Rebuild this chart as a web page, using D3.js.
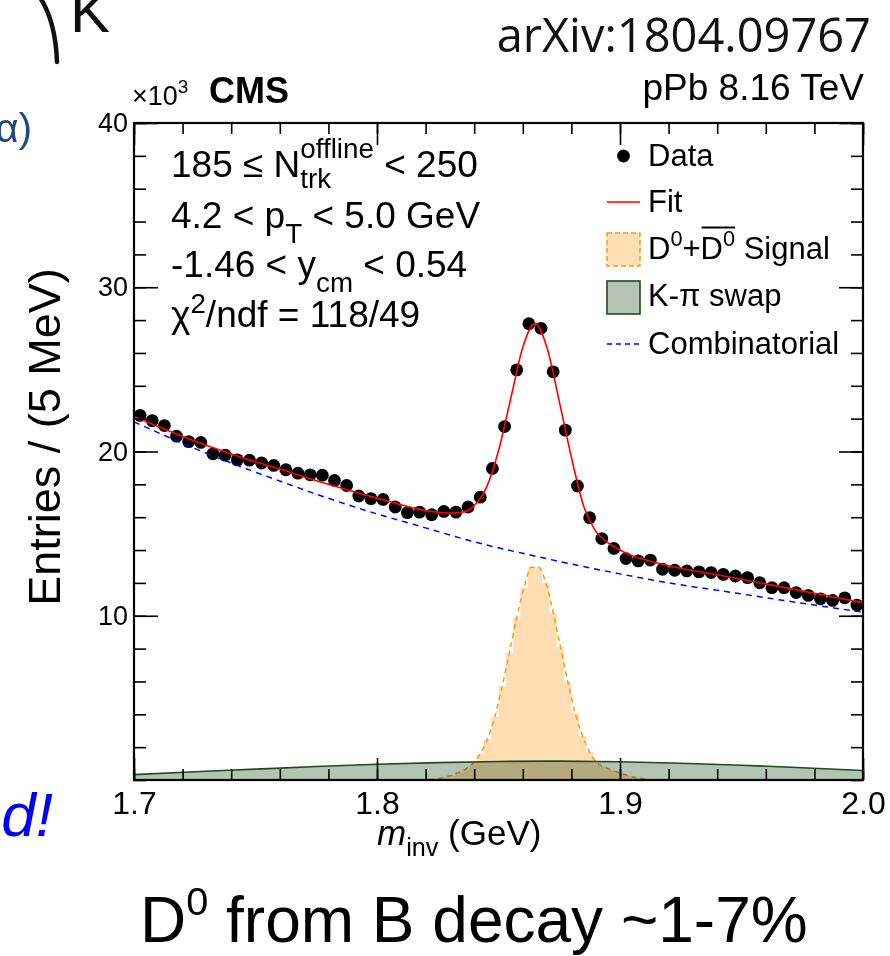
<!DOCTYPE html>
<html>
<head>
<meta charset="utf-8">
<script src="https://cdn.jsdelivr.net/npm/d3@7"></script>
<style>
  body { margin: 0; background: #fff; }
  svg { display: block; font-family: "Liberation Sans", Arial, Helvetica, sans-serif; }
  text { white-space: pre; }
</style>
</head>
<body>
<svg id="chart" width="890" height="956"></svg>
<script>
// ---- D0 -> K pi invariant-mass spectrum, 185 <= Ntrk < 250, 4.2 < pT < 5.0 GeV ----
// Data: entries (x10^3) in 5 MeV bins from 1.700 to 2.000 GeV
const massMin = 1.7;
const binWidth = 0.005;
const dataCounts = [
  22.20, 21.88, 21.58, 20.93, 20.60, 20.55, 19.86, 19.78, 19.49, 19.47,
  19.30, 19.15, 18.89, 18.68, 18.58, 18.56, 18.24, 17.93, 17.29, 17.13,
  17.08, 16.62, 16.28, 16.31, 16.15, 16.35, 16.31, 16.62, 17.22, 18.97,
  21.52, 24.97, 27.78, 27.50, 24.85, 21.30, 17.90, 15.97, 14.70, 14.10,
  13.48, 13.34, 13.39, 12.83, 12.77, 12.73, 12.67, 12.63, 12.52, 12.42,
  12.32, 12.01, 11.71, 11.71, 11.41, 11.24, 11.03, 10.93, 11.09, 10.65
];

// D0 + D0bar signal template, 3 MeV bins starting at 1.820 GeV (x10^3)
const signalBinMin = 1.820;
const signalBinWidth = 0.003;
const signalBins = [
  0.03, 0.08, 0.16, 0.28, 0.45, 0.68, 1.00, 1.60, 2.50, 3.85,
  5.70, 7.75, 9.90, 11.70, 12.95, 12.95, 12.00, 10.20, 8.10, 6.00,
  4.10, 2.70, 1.70, 1.05, 0.80, 0.60, 0.45, 0.30, 0.18, 0.10, 0.05
];

// Combinatorial background component
const combMass   = [1.70, 1.72, 1.74, 1.76, 1.78, 1.80, 1.82, 1.84, 1.86, 1.88, 1.90, 1.92, 1.94, 1.96, 1.98, 2.00];
const combValues = [21.8, 20.5, 19.3, 18.2, 17.15, 16.2, 15.35, 14.5, 13.8, 13.15, 12.55, 12.0, 11.55, 11.1, 10.65, 10.22];

// K-pi mass-swap component
const swapMass   = [1.700, 1.725, 1.750, 1.775, 1.800, 1.825, 1.850, 1.875, 1.900, 1.925, 1.950, 1.975, 2.000];
const swapValues = [0.33, 0.50, 0.66, 0.82, 0.96, 1.06, 1.13, 1.15, 1.11, 1.02, 0.90, 0.75, 0.58];

// Total fit
const fitMass = [1.70, 1.72, 1.74, 1.76, 1.78, 1.80, 1.82, 1.83, 1.835, 1.84, 1.845, 1.85, 1.855, 1.86,
                 1.865, 1.87, 1.875, 1.88, 1.885, 1.89, 1.895, 1.90, 1.905, 1.91, 1.92, 1.94, 1.96, 1.98, 2.00];
const fitValues = [22.13, 20.92, 19.85, 18.93, 18.0, 17.16, 16.41, 16.25, 16.3, 16.71, 17.8, 20.05, 23.2, 26.35,
                   27.8, 26.3, 23.05, 19.65, 16.7, 15.15, 14.45, 14.0, 13.65, 13.42, 13.04, 12.5, 11.94, 11.37, 10.8];

// Axis tick labels
const xTickLabels = [1.7, 1.8, 1.9, 2.0];
const yTickLabels = [10, 20, 30, 40];

// ---------------------------------------------------------------------------
const svg = d3.select("#chart");
const frame = { left: 134, right: 863, top: 123, bottom: 780 };

const x = d3.scaleLinear().domain([1.7, 2.0]).range([frame.left, frame.right]);
const y = d3.scaleLinear().domain([0, 40]).range([frame.bottom, frame.top]);

const COL = {
  sigFill: "#ffdeb3", sigLine: "#f29d1c",
  swapFill: "#b4c4b4", swapLine: "#1d4d1d",
  comb: "#0000ff", fit: "#ff0000"
};

// Text with sub/superscripts laid out run by run
function richText(parent, x0, y0, runs, size, opts = {}) {
  const g = parent.append("g");
  let cx = x0, lastX = x0, lastW = 0, barStart = null;
  runs.forEach(r => {
    const fs = size * (r.k || 1);
    const rx = r.stack ? lastX : cx;
    const t = g.append("text")
      .attr("x", rx).attr("y", y0 + (r.dy || 0) * size)
      .attr("font-size", fs)
      .attr("fill", opts.fill || "#000")
      .text(r.t);
    if (opts.family) t.attr("font-family", opts.family);
    if (r.italic || opts.italic) t.attr("font-style", "italic");
    if (r.bold || opts.bold) t.attr("font-weight", "bold");
    const w = t.node().getComputedTextLength();
    if (r.barStart) barStart = rx;
    if (r.stack) {
      lastW = Math.max(lastW, w);
      cx = lastX + lastW;
    } else {
      lastX = rx; lastW = w; cx = rx + w;
    }
    if (r.barEnd && barStart !== null) {
      g.append("line")
        .attr("x1", barStart + 1).attr("x2", cx)
        .attr("y1", y0 - size * 1.02).attr("y2", y0 - size * 1.02)
        .attr("stroke", "#000").attr("stroke-width", 2);
    }
    cx += (r.gap || 0) * size;
  });
  if (opts.anchor === "end") g.attr("transform", `translate(${x0 - cx},0)`);
  return g;
}

// ---- Signal template (step histogram + dashed shape) ----
const sigSteps = signalBins.map((v, i) => [signalBinMin + i * signalBinWidth, v]);
sigSteps.push([signalBinMin + signalBins.length * signalBinWidth, signalBins[signalBins.length - 1]]);

svg.append("path")
  .attr("d", d3.area().curve(d3.curveStepAfter)
    .x(d => x(d[0])).y0(y(0)).y1(d => y(d[1]))(sigSteps))
  .attr("fill", COL.sigFill);

const sigCentres = signalBins.map((v, i) => [signalBinMin + (i + 0.5) * signalBinWidth, v]);
svg.append("path")
  .attr("d", d3.line().curve(d3.curveMonotoneX)
    .x(d => x(d[0])).y(d => y(d[1]))(sigCentres))
  .attr("fill", "none").attr("stroke", COL.sigLine)
  .attr("stroke-width", 1.5).attr("stroke-dasharray", "5,4");

// ---- K-pi swap component ----
const swapPts = swapMass.map((m, i) => [m, swapValues[i]]);
svg.append("path")
  .attr("d", d3.area().curve(d3.curveNatural)
    .x(d => x(d[0])).y0(y(0)).y1(d => y(d[1]))(swapPts))
  .attr("fill", COL.swapFill)
  .style("mix-blend-mode", "multiply");
svg.append("path")
  .attr("d", d3.line().curve(d3.curveNatural)
    .x(d => x(d[0])).y(d => y(d[1]))(swapPts))
  .attr("fill", "none").attr("stroke", COL.swapLine).attr("stroke-width", 1.6);

// ---- Data points ----
svg.append("g").selectAll("circle")
  .data(dataCounts)
  .join("circle")
  .attr("cx", (d, i) => x(massMin + (i + 0.5) * binWidth))
  .attr("cy", d => y(d))
  .attr("r", 6.4)
  .attr("fill", "#000");

// ---- Combinatorial background ----
svg.append("path")
  .attr("d", d3.line().curve(d3.curveNatural)
    .x((d, i) => x(combMass[i])).y(d => y(d))(combValues))
  .attr("fill", "none").attr("stroke", COL.comb)
  .attr("stroke-width", 1.5).attr("stroke-dasharray", "6,5");

// ---- Total fit ----
svg.append("path")
  .attr("d", d3.line().curve(d3.curveMonotoneX)
    .x((d, i) => x(fitMass[i])).y(d => y(d))(fitValues))
  .attr("fill", "none").attr("stroke", COL.fit).attr("stroke-width", 1.6);

// ---- Axes (ticks on all four sides, pointing inward) ----
function styleAxis(g, size) {
  g.attr("font-family", null).attr("font-size", size);
  g.select(".domain").remove();
  g.selectAll(".tick line").attr("stroke", "#000").attr("stroke-width", 1.6);
  g.selectAll(".tick text").attr("fill", "#000");
}
const xMinor = x.ticks(15);
const yMinor = y.ticks(20);

svg.append("g").attr("transform", `translate(0,${frame.bottom})`)
  .call(d3.axisBottom(x).tickValues(xMinor).tickSize(-11).tickFormat(""))
  .call(g => styleAxis(g, 32));
svg.append("g").attr("transform", `translate(0,${frame.bottom})`)
  .call(d3.axisBottom(x).tickValues(xTickLabels).tickSize(-22).tickPadding(11).tickFormat(d3.format(".1f")))
  .call(g => styleAxis(g, 32));
svg.append("g").attr("transform", `translate(0,${frame.top})`)
  .call(d3.axisTop(x).tickValues(xMinor).tickSize(-11).tickFormat(""))
  .call(g => styleAxis(g, 32));
svg.append("g").attr("transform", `translate(0,${frame.top})`)
  .call(d3.axisTop(x).tickValues(xTickLabels).tickSize(-22).tickFormat(""))
  .call(g => styleAxis(g, 32));

svg.append("g").attr("transform", `translate(${frame.left},0)`)
  .call(d3.axisLeft(y).tickValues(yMinor).tickSize(-12).tickFormat(""))
  .call(g => styleAxis(g, 27));
svg.append("g").attr("transform", `translate(${frame.left},0)`)
  .call(d3.axisLeft(y).tickValues(yTickLabels).tickSize(-24).tickPadding(6).tickFormat(d3.format("d")))
  .call(g => styleAxis(g, 27));
svg.append("g").attr("transform", `translate(${frame.right},0)`)
  .call(d3.axisRight(y).tickValues(yMinor).tickSize(-12).tickFormat(""))
  .call(g => styleAxis(g, 27));
svg.append("g").attr("transform", `translate(${frame.right},0)`)
  .call(d3.axisRight(y).tickValues(yTickLabels).tickSize(-24).tickFormat(""))
  .call(g => styleAxis(g, 27));

svg.append("rect")
  .attr("x", frame.left).attr("y", frame.top)
  .attr("width", frame.right - frame.left).attr("height", frame.bottom - frame.top)
  .attr("fill", "none").attr("stroke", "#000").attr("stroke-width", 2.2);

// ---- Axis titles ----
richText(svg, 377, 845, [
  { t: "m", italic: true },
  { t: "inv", k: 0.72, dy: 0.32 },
  { t: " (GeV)" }
], 35);

svg.append("text")
  .attr("transform", "translate(60,437) rotate(-90)")
  .attr("text-anchor", "middle")
  .attr("font-size", 45)
  .text("Entries / (5 MeV)");

// ---- Header ----
richText(svg, 132, 105, [{ t: "×10" }, { t: "3", k: 0.7, dy: -0.45 }], 27);
svg.append("text").attr("x", 209).attr("y", 103)
  .attr("font-size", 36).attr("font-weight", "bold").text("CMS");
svg.append("text").attr("x", 864).attr("y", 100)
  .attr("text-anchor", "end").attr("font-size", 37).text("pPb 8.16 TeV");
svg.append("text").attr("x", 871).attr("y", 52)
  .attr("text-anchor", "end").attr("font-size", 47)
  .attr("font-family", "'Open Sans', sans-serif").attr("fill", "#111")
  .text("arXiv:1804.09767");

// ---- Selection text ----
const selSize = 37;
richText(svg, 171, 177, [
  { t: "185 ≤ N" },
  { t: "offline", k: 0.75, dy: -0.52 },
  { t: "trk", k: 0.75, dy: 0.3, stack: true },
  { t: " < 250" }
], selSize);
richText(svg, 171, 228, [
  { t: "4.2 < p" },
  { t: "T", k: 0.75, dy: 0.4 },
  { t: " < 5.0 GeV" }
], selSize);
richText(svg, 171, 277, [
  { t: "-1.46 < y" },
  { t: "cm", k: 0.75, dy: 0.4 },
  { t: " < 0.54" }
], selSize);
richText(svg, 171, 327, [
  { t: "χ" },
  { t: "2", k: 0.75, dy: -0.38 },
  { t: "/ndf = 118/49" }
], selSize);

// ---- Legend ----
const leg = svg.append("g");
const legSize = 31, legX = 648, symX = 607, symW = 33;
leg.append("circle").attr("cx", symX + symW / 2).attr("cy", 156).attr("r", 6.4).attr("fill", "#000");
richText(leg, legX, 166, [{ t: "Data" }], legSize);

leg.append("line").attr("x1", symX).attr("x2", symX + symW).attr("y1", 202).attr("y2", 202)
  .attr("stroke", COL.fit).attr("stroke-width", 1.6);
richText(leg, legX, 212, [{ t: "Fit" }], legSize);

leg.append("rect").attr("x", symX).attr("y", 233).attr("width", symW).attr("height", 33)
  .attr("fill", COL.sigFill).attr("stroke", COL.sigLine).attr("stroke-width", 1.5)
  .attr("stroke-dasharray", "5,3");
richText(leg, legX, 259, [
  { t: "D" }, { t: "0", k: 0.7, dy: -0.42 }, { t: "+" },
  { t: "D", barStart: true }, { t: "0", k: 0.7, dy: -0.42, barEnd: true },
  { t: " Signal" }
], legSize);

leg.append("rect").attr("x", symX).attr("y", 281).attr("width", symW).attr("height", 33)
  .attr("fill", COL.swapFill).attr("stroke", COL.swapLine).attr("stroke-width", 1.6);
richText(leg, legX, 306, [{ t: "K-π swap" }], legSize);

leg.append("line").attr("x1", symX).attr("x2", symX + symW).attr("y1", 344).attr("y2", 344)
  .attr("stroke", COL.comb).attr("stroke-width", 1.5).attr("stroke-dasharray", "5,4");
richText(leg, legX, 354, [{ t: "Combinatorial" }], legSize);

// ---- Surrounding slide text ----
svg.append("path")
  .attr("d", "M39,-4 C50,12 56,34 57,62")
  .attr("fill", "none").attr("stroke", "#111").attr("stroke-width", 4.5)
  .attr("stroke-linecap", "round");
svg.append("text").attr("x", 70).attr("y", 32).attr("font-size", 60)
  .attr("font-weight", 300).attr("fill", "#111").text("K");
svg.append("text").attr("x", 32).attr("y", 142).attr("text-anchor", "end")
  .attr("font-size", 40).attr("fill", "#1f4a7c").text("(α)");
svg.append("text").attr("x", 53).attr("y", 836).attr("text-anchor", "end")
  .attr("font-size", 62).attr("font-style", "italic").attr("fill", "#0000ff").text("d!");

richText(svg, 140, 942, [
  { t: "D" }, { t: "0", k: 0.62, dy: -0.42 }, { t: " from B decay ~1-7%" }
], 64);
</script>
</body>
</html>
